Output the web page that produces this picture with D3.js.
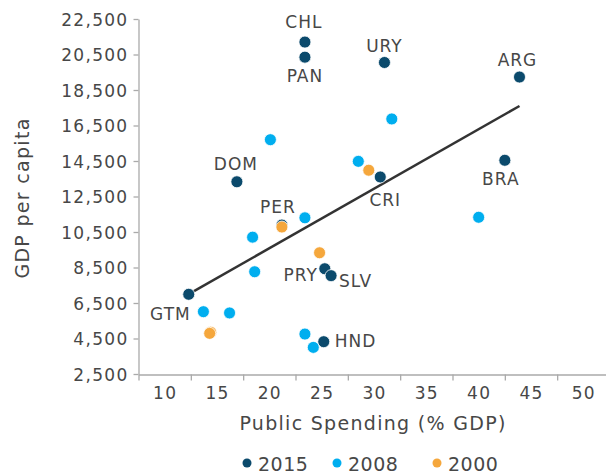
<!DOCTYPE html>
<html>
<head>
<meta charset="utf-8">
<script src="https://cdn.jsdelivr.net/npm/d3@7"></script>
<style>
  body { margin: 0; background: #fff; }
  svg text { font-family: "DejaVu Sans", sans-serif; fill: #474747; }
</style>
</head>
<body>
<svg width="606" height="474"></svg>
<script>
// Данные
const years = ["2015", "2008", "2000"];
const yearColors = ["#0b4a6c", "#00aeef", "#f5a73c"];

// 2015: страны с подписями
const countries2015 = ["CHL", "PAN", "URY", "ARG", "CRI", "BRA", "DOM", "PER", "GTM", "PRY", "SLV", "HND"];
const spending2015 = [23.4, 23.4, 31.0, 43.9, 30.6, 42.5, 16.9, 21.2, 12.3, 25.3, 25.9, 25.2];
const gdp2015 = [21200, 20350, 20050, 19230, 13600, 14540, 13330, 10890, 6990, 8430, 8040, 4320];

// 2008
const spending2008 = [31.7, 28.5, 40.0, 23.4, 20.1, 18.4, 18.6, 13.7, 16.2, 23.4, 24.2];
const gdp2008 = [16870, 14480, 11330, 11300, 15700, 10210, 8260, 6010, 5940, 4750, 4000];

// 2000
const spending2000 = [29.5, 21.2, 24.8, 14.4, 14.3];
const gdp2000 = [13980, 10780, 9330, 4850, 4790];

// Линия тренда (концы, как на картинке)
const trendSpending = [12.3, 43.9];
const trendGdp = [7000, 17600];

const xTickLabels = [10, 15, 20, 25, 30, 35, 40, 45, 50];
const yTickLabels = [2500, 4500, 6500, 8500, 10500, 12500, 14500, 16500, 18500, 20500, 22500];

// Смещения подписей стран относительно точки: [dx, dy, anchor]
const labelPos = {
  CHL: [-1, -14, "middle"], PAN: [0, 25, "middle"], URY: [0, -10, "middle"],
  ARG: [-2, -11, "middle"], CRI: [5, 29, "middle"], BRA: [-4, 25, "middle"],
  DOM: [-1, -12, "middle"], PER: [-4, -12, "middle"], GTM: [2, 26, "end"],
  PRY: [-7, 12, "end"], SLV: [8, 11, "start"], HND: [11, 5.5, "start"]
};

const svg = d3.select("svg");

const x = d3.scaleLinear().domain([7.5, 52.5]).range([138.5, 609.5]);
const y = d3.scaleLinear().domain([2500, 22500]).range([374, 19]);

const axisColor = "#aaaaaa";

// Ось Y
const yAxis = svg.append("g")
  .attr("transform", "translate(138.5,0)")
  .call(d3.axisLeft(y).tickValues(yTickLabels).tickFormat(d3.format(",")).tickSize(5).tickSizeOuter(0).tickPadding(5));
yAxis.selectAll("text").style("font-size", "17px").style("letter-spacing", "1.3px").attr("dy", "0.36em");

// Ось X: засечки между подписями
svg.append("g")
  .attr("transform", "translate(0,374.5)")
  .call(d3.axisBottom(x).tickValues(d3.range(7.5, 50, 5)).tickFormat("").tickSize(6).tickSizeOuter(0));

const xLabels = svg.append("g")
  .attr("transform", "translate(0,374.5)")
  .call(d3.axisBottom(x).tickValues(xTickLabels).tickSize(0).tickPadding(12));
xLabels.select(".domain").remove();
xLabels.selectAll("text").style("font-size", "17px").style("letter-spacing", "1.3px");

svg.selectAll(".domain, .tick line").attr("stroke", axisColor).attr("stroke-width", 1.3);

// Подписи осей
svg.append("text")
  .attr("transform", "translate(29,198) rotate(-90)")
  .attr("text-anchor", "middle")
  .style("font-size", "19px").style("letter-spacing", "1.3px")
  .text("GDP per capita");

svg.append("text")
  .attr("x", 373).attr("y", 430)
  .attr("text-anchor", "middle")
  .style("font-size", "19px").style("letter-spacing", "1.3px")
  .text("Public Spending (% GDP)");

// Линия тренда
const line = d3.line().x(d => x(d[0])).y(d => y(d[1]));
svg.append("path")
  .attr("d", line(d3.zip(trendSpending, trendGdp)))
  .attr("stroke", "#333")
  .attr("stroke-width", 2.5)
  .attr("fill", "none");

// Точки
const r = 6;
function drawDots(xs, ys, color) {
  svg.append("g").selectAll("circle")
    .data(d3.zip(xs, ys))
    .join("circle")
    .attr("cx", d => x(d[0]))
    .attr("cy", d => y(d[1]))
    .attr("r", r)
    .attr("fill", color)
    .attr("stroke", "#fff")
    .attr("stroke-width", 0.8);
}
drawDots(spending2015, gdp2015, yearColors[0]);
drawDots(spending2008, gdp2008, yearColors[1]);
drawDots(spending2000, gdp2000, yearColors[2]);

// Подписи стран
svg.append("g").selectAll("text")
  .data(countries2015)
  .join("text")
  .attr("x", (d, i) => x(spending2015[i]) + labelPos[d][0])
  .attr("y", (d, i) => y(gdp2015[i]) + labelPos[d][1])
  .attr("text-anchor", d => labelPos[d][2])
  .style("font-size", "17px").style("letter-spacing", "1px")
  .text(d => d);

// Легенда
const legendX = [247, 337, 437];
const legend = svg.append("g").selectAll("g")
  .data(years)
  .join("g")
  .attr("transform", (d, i) => `translate(${legendX[i]},463)`);
legend.append("circle").attr("r", 4.5).attr("fill", (d, i) => yearColors[i]);
legend.append("text")
  .attr("x", 11).attr("y", 8)
  .style("font-size", "19px").style("letter-spacing", "0.5px")
  .text(d => d);
</script>
</body>
</html>
